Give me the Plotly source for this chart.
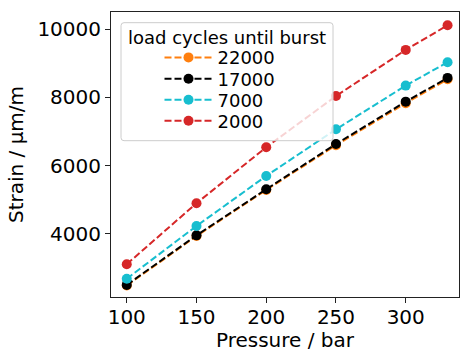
import plotly.graph_objects as go

pressure = [100, 150, 200, 250, 300, 330]
strain_22000 = [2490, 3940, 5290, 6600, 7830, 8530]
strain_17000 = [2510, 3960, 5310, 6635, 7875, 8570]
strain_7000 = [2690, 4235, 5700, 7065, 8345, 9030]
strain_2000 = [3115, 4900, 6540, 8040, 9390, 10110]
legend_title = "load cycles until burst"

series = [
    ("22000", strain_22000, "#ff7f0e"),
    ("17000", strain_17000, "#000000"),
    ("7000", strain_7000, "#17becf"),
    ("2000", strain_2000, "#d62728"),
]

W, H = 460, 352
PL, PR, PT, PB = 111, 459, 12, 297  # plot area in px


def px_x(px):
    return (px - PL) / (PR - PL)


def px_y(py):
    return (PB - py) / (PB - PT)


fig = go.Figure()
legend_ids = ["legend", "legend2", "legend3", "legend4"]
for (name, ys, col), lid in zip(series, legend_ids):
    fig.add_trace(go.Scatter(
        x=pressure, y=ys, name=name, mode="lines+markers",
        line=dict(color=col, width=2, dash="7px,3px"),
        marker=dict(color=col, size=10),
        legend=lid,
    ))

FONT = "DejaVu Sans"
axis_common = dict(
    showgrid=False, zeroline=False, showline=True, linecolor="#222", linewidth=1,
    mirror=True, ticks="outside", ticklen=5, tickcolor="#222", automargin=False,
    tickfont=dict(family=FONT, size=20, color="#000"),
    title_font=dict(family=FONT, size=20, color="#000"),
)

# legend frame (rounded)
bx0, bx1, by0, by1, r = 121, 333, 22.7, 140.7, 3
path = (
    f"M {px_x(bx0 + r)},{px_y(by0)} L {px_x(bx1 - r)},{px_y(by0)} "
    f"Q {px_x(bx1)},{px_y(by0)} {px_x(bx1)},{px_y(by0 + r)} "
    f"L {px_x(bx1)},{px_y(by1 - r)} Q {px_x(bx1)},{px_y(by1)} {px_x(bx1 - r)},{px_y(by1)} "
    f"L {px_x(bx0 + r)},{px_y(by1)} Q {px_x(bx0)},{px_y(by1)} {px_x(bx0)},{px_y(by1 - r)} "
    f"L {px_x(bx0)},{px_y(by0 + r)} Q {px_x(bx0)},{px_y(by0)} {px_x(bx0 + r)},{px_y(by0)} Z"
)
fig.add_shape(type="path", path=path, xref="paper", yref="paper", layer="above",
              line=dict(color="#cccccc", width=1), fillcolor="rgba(255,255,255,0.8)")

fig.add_annotation(text=legend_title, xref="paper", yref="paper",
                   x=px_x(227), y=px_y(37.5), xanchor="center", yanchor="middle",
                   showarrow=False, font=dict(family=FONT, size=18, color="#000"))

IW = 48
leg_left = 188.5 - 5 - IW / 2
row_y = [57.7, 79, 100, 121]
legends = {}
for lid, ry in zip(legend_ids, row_y):
    legends[lid] = dict(
        x=px_x(leg_left), y=px_y(ry), xanchor="left", yanchor="middle",
        bgcolor="rgba(0,0,0,0)", borderwidth=0, itemwidth=IW,
        font=dict(family=FONT, size=18, color="#000"),
    )

fig.update_layout(
    width=W, height=H,
    margin=dict(l=PL, r=W - PR, t=PT, b=H - PB),
    paper_bgcolor="white", plot_bgcolor="white",
    xaxis=dict(range=[88.7, 338.2], tickvals=[100, 150, 200, 250, 300],
               ticklabelstandoff=-3,
               title=dict(text="Pressure / bar", standoff=9), **axis_common),
    yaxis=dict(range=[2155, 10500], tickvals=[4000, 6000, 8000, 10000],
               tickformat="d",
               title=dict(text="Strain / µm/m", standoff=8), **axis_common),
    showlegend=True,
    **legends,
)

fig.write_html("out.html", config={"displayModeBar": False},
               post_script="document.body.style.margin='0';")
